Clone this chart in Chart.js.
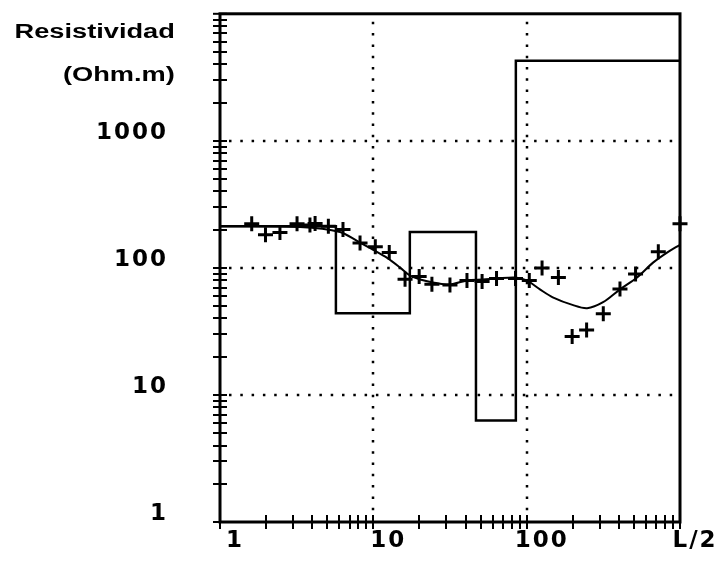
<!DOCTYPE html>
<html>
<head>
<meta charset="utf-8">
<title>Resistividad aparente</title>
<script src="https://cdn.jsdelivr.net/npm/chart.js@4.4.1/dist/chart.umd.min.js"></script>
<style>
  html, body { margin: 0; padding: 0; background: #fff; }
  #wrap { position: relative; width: 723px; height: 561px; }
  #yTitle {
    position: absolute; right: 548px; top: 10px;
    font: bold 20px "Liberation Sans", Arial, sans-serif;
    line-height: 43px; text-align: right; color: #000; white-space: nowrap;
    transform: scaleX(1.36); transform-origin: right top;
  }
</style>
</head>
<body>
<div id="wrap">
  <canvas id="sevChart" width="723" height="561"></canvas>
  <div id="yTitle">Resistividad<br>(Ohm.m)</div>
</div>
<script>
// Medidas de campo: AB/2 (m) y resistividad aparente (Ohm.m)
const spacing = [1.61, 1.98, 2.46, 3.18, 3.86, 4.17, 5.09, 6.34, 8.19, 10.3, 12.7, 16.1, 19.9, 24.1, 31.6,
                 40.8, 51.2, 63.6, 84.6, 104, 126, 161, 198, 246, 316, 406, 513, 722, 1000];
const apparentRes = [223, 182, 190, 223, 218, 224, 213, 201, 157, 147, 132, 81.5, 85.6, 74.2, 73.5,
                     79.7, 78.3, 82.6, 82.6, 79.7, 99.7, 84.1, 28.9, 32.5, 43.5, 68.2, 89.5, 134, 223];

// Curva teórica del modelo
const curveSpacing = [1, 3.32, 6.06, 7.83, 9.95, 12.3, 14.9, 17.3, 20.2, 24.5, 31.6, 40.8, 51.9,
                      64.1, 83.9, 100, 122, 148, 201, 248, 315, 406, 525, 667, 823, 1000];
const curveRes = [213, 210, 192, 163, 139, 120, 101, 87.2, 81, 76.9, 74.1, 79.7, 81,
                  82.6, 84.1, 79.7, 67.8, 58.7, 50.9, 48.2, 53.7, 67.8, 84.1, 110, 132, 152];

// Modelo de capas: profundidad de cada contacto y resistividad de cada capa
const layerTops = [5.7, 17.3, 46.7, 85];
const layerRes = [213, 44, 192, 6.3, 4280];

// Ejes
const xTicks = [1, 10, 100, 1000];
const xTickLabels = ['1', '10', '100', 'L/2'];
const yTicks = [1, 10, 100, 1000];
const yTickLabels = ['1', '10', '100', '1000'];
const xGridValues = [10, 100];
const yGridValues = [10, 100, 1000];

// escalones del modelo: tramo horizontal y luego salto vertical
const modelX = [1].concat(layerTops, [1000]);
const modelY = layerRes.concat([layerRes[layerRes.length - 1]]);

const toPoints = (xs, ys) => xs.map((v, i) => ({ x: v, y: ys[i] }));

function strokeLine(ctx, x1, y1, x2, y2) {
    ctx.beginPath();
    ctx.moveTo(x1, y1);
    ctx.lineTo(x2, y2);
    ctx.stroke();
}

// rejilla punteada, marco y marcas logarítmicas
const framePlugin = {
    id: 'framePlugin',
    beforeDraw(chart) {
        chart.ctx.letterSpacing = '2px';
    },
    beforeDatasetsDraw(chart) {
        const { ctx, chartArea: a, scales: { x, y } } = chart;
        ctx.save();
        ctx.strokeStyle = '#000';
        ctx.lineWidth = 2.5;
        ctx.setLineDash([2.5, 8.8]);
        xGridValues.forEach(v => {
            const px = Math.round(x.getPixelForValue(v));
            strokeLine(ctx, px, a.top + 8, px, a.bottom - 6);
        });
        yGridValues.forEach(v => {
            const py = Math.round(y.getPixelForValue(v));
            strokeLine(ctx, a.left + 9, py, a.right - 6, py);
        });
        ctx.restore();
    },
    afterDatasetsDraw(chart) {
        const { ctx, chartArea: a, scales: { x, y } } = chart;
        ctx.save();
        ctx.strokeStyle = '#000';
        ctx.lineCap = 'butt';

        ctx.lineWidth = 3;
        ctx.strokeRect(a.left, a.top, a.right - a.left, a.bottom - a.top);

        ctx.lineWidth = 2;
        for (let d = 1; d < 1000; d *= 10) {
            for (let m = 1; m < 10; m++) {
                const px = Math.round(x.getPixelForValue(m * d));
                strokeLine(ctx, px, a.bottom - 7, px, a.bottom + 7);
            }
        }
        strokeLine(ctx, a.right, a.bottom - 7, a.right, a.bottom + 7);

        for (let d = 1; d < 10000; d *= 10) {
            for (let m = 1; m < 10; m++) {
                const py = Math.round(y.getPixelForValue(m * d));
                strokeLine(ctx, a.left - 7, py, a.left + 7, py);
            }
        }
        strokeLine(ctx, a.left - 7, a.top, a.left + 7, a.top);
        ctx.restore();
    }
};

const tickFont = { family: 'DejaVu Sans', weight: 'bold', size: 23 };

new Chart(document.getElementById('sevChart'), {
    type: 'scatter',
    data: {
        datasets: [{
            label: 'Modelo',
            data: toPoints(modelX, modelY),
            showLine: true,
            stepped: 'before',
            borderColor: '#000',
            borderWidth: 2.5,
            pointRadius: 0
        }, {
            label: 'Calculada',
            data: toPoints(curveSpacing, curveRes),
            showLine: true,
            tension: 0.3,
            borderColor: '#000',
            borderWidth: 2,
            pointRadius: 0
        }, {
            label: 'Medida',
            data: toPoints(spacing, apparentRes),
            showLine: false,
            pointStyle: 'cross',
            pointRadius: 7.5,
            borderColor: '#000',
            borderWidth: 3,
            clip: false
        }]
    },
    options: {
        responsive: false,
        animation: false,
        devicePixelRatio: 1,
        layout: { padding: { top: 9, right: 43, left: 0, bottom: 0 } },
        plugins: {
            legend: { display: false },
            tooltip: { enabled: false }
        },
        scales: {
            x: {
                type: 'logarithmic',
                min: 1,
                max: 1000,
                afterBuildTicks: s => { s.ticks = xTicks.map(v => ({ value: v })); },
                afterFit: s => { s.height = 39; },
                grid: { display: false, drawTicks: true, tickLength: 5 },
                border: { display: false },
                ticks: {
                    autoSkip: false,
                    maxRotation: 0,
                    padding: 0,
                    labelOffset: 15,
                    color: '#000',
                    font: tickFont,
                    callback: (v, i) => xTickLabels[i]
                }
            },
            y: {
                type: 'logarithmic',
                min: 1,
                max: 10000,
                afterBuildTicks: s => { s.ticks = yTicks.map(v => ({ value: v })); },
                afterFit: s => { s.width = 220; },
                grid: { display: false, drawTicks: true, tickLength: 52 },
                border: { display: false },
                ticks: {
                    autoSkip: false,
                    padding: 0,
                    labelOffset: -8,
                    color: '#000',
                    font: tickFont,
                    callback: (v, i) => yTickLabels[i]
                }
            }
        }
    },
    plugins: [framePlugin]
});
</script>
</body>
</html>
